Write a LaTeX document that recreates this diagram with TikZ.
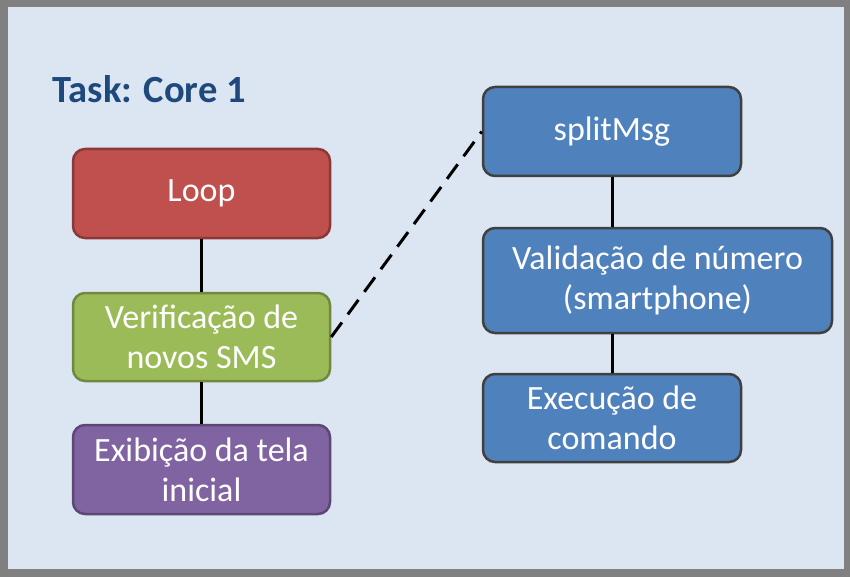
\documentclass[tikz,border=0pt]{standalone}
\usepackage{fontspec}
\setmainfont{Carlito}
\usepackage{tikz}
\usetikzlibrary{positioning, calc}
\usepackage{xcolor}
\definecolor{panelbg}{RGB}{220,230,242}
\definecolor{framegray}{RGB}{128,128,128}
\definecolor{titleblue}{RGB}{31,73,125}
\definecolor{loopred}{RGB}{192,80,77}
\definecolor{loopredline}{RGB}{140,56,54}
\definecolor{smsgreen}{RGB}{155,187,89}
\definecolor{smsgreenline}{RGB}{113,137,63}
\definecolor{screenpurple}{RGB}{128,100,162}
\definecolor{screenpurpleline}{RGB}{92,71,118}
\definecolor{cmdblue}{RGB}{79,129,189}
\definecolor{cmdblueline}{RGB}{64,64,64}

\tikzset{
  task/.style={rounded corners=12pt, line width=2.5pt, text=white, align=center,
    font=\fontsize{34}{40}\selectfont, inner sep=0pt},
  link/.style={line width=3pt, black}
}

\begin{document}
\begin{tikzpicture}[x=1pt, y=-1pt]
  \useasboundingbox (0,0) rectangle (850,577);
  \fill[framegray] (0,0) rectangle (850,577);
  \fill[panelbg] (8,7) rectangle (844,569);
  \node[titleblue, anchor=base west, font=\fontsize{38.5}{44}\selectfont\bfseries] (title) at (49,103) {Task: Core 1};

  \node[task, fill=loopred, draw=loopredline, minimum width=257pt, minimum height=89pt] (loop) at (201.5,193.5) {Loop};
  \node[task, fill=smsgreen, draw=smsgreenline, minimum width=257pt, minimum height=88pt] (sms) at (201.5,337) {Verificação de\\novos SMS};
  \node[task, fill=screenpurple, draw=screenpurpleline, minimum width=257pt, minimum height=89pt] (screen) at (201.5,469.5) {Exibição da tela\\inicial};

  \node[task, fill=cmdblue, draw=cmdblueline, minimum width=258pt, minimum height=89pt] (split) at (612,131.5) {splitMsg};
  \node[task, fill=cmdblue, draw=cmdblueline, minimum width=349pt, minimum height=105pt] (valid) at (657.5,280.5) {Validação de número\\(smartphone)};
  \node[task, fill=cmdblue, draw=cmdblueline, minimum width=258pt, minimum height=88pt] (exec) at (612,418) {Execução de\\comando};

  \draw[link] (loop.south) -- (sms.north);
  \draw[link] (sms.south) -- (screen.north);
  \draw[link] (split.south) -- (split.south |- valid.north);
  \draw[link] (split.south |- valid.south) -- (exec.north);
  \draw[link, dash pattern=on 18pt off 10pt] (sms.east) -- (split.west);
\end{tikzpicture}
\end{document}
